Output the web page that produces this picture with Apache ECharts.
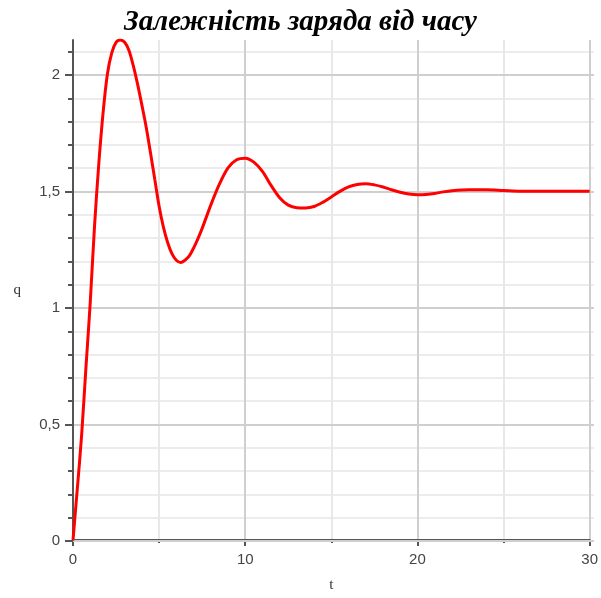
<!DOCTYPE html>
<html>
<head>
<meta charset="utf-8">
<script src="https://cdn.jsdelivr.net/npm/echarts@6/dist/echarts.min.js"></script>
<style>html,body{margin:0;padding:0;background:#fff;}#c{width:601px;height:598px;}</style>
</head>
<body>
<div id="c"></div>
<script>
const titleText = 'Залежність заряда від часу';
const xName = 't';
const yName = 'q';
const tValues = [0,0.25,0.5,0.75,1.0,1.25,1.5,1.75,2.0,2.25,2.5,2.75,3.0,3.25,3.5,3.75,4.0,4.25,4.5,4.75,5.0,5.25,5.5,5.75,6.0,6.25,6.5,6.75,7.0,7.25,7.5,8.0,8.5,9.0,9.5,10.0,10.5,11.0,11.5,12.0,12.5,13.0,13.5,14.0,14.5,15.0,15.5,16.0,16.5,17.0,17.5,18.0,18.5,19.0,19.5,20.0,20.5,21.0,21.5,22.0,23.0,24.0,25.0,26.0,27.0,28.0,29.0,30.0];
const qValues = [0,0.22,0.45,0.74,1.02,1.35,1.62,1.84,2.005,2.095,2.14,2.15,2.14,2.105,2.04,1.96,1.87,1.775,1.665,1.55,1.435,1.345,1.278,1.23,1.203,1.193,1.203,1.222,1.255,1.295,1.34,1.44,1.53,1.60,1.635,1.642,1.625,1.585,1.525,1.472,1.44,1.429,1.428,1.434,1.452,1.475,1.499,1.518,1.529,1.532,1.527,1.518,1.506,1.495,1.488,1.485,1.486,1.49,1.497,1.502,1.506,1.506,1.503,1.500,1.5,1.5,1.5,1.5];
const xMin = 0, xMax = 30, yMin = 0, yMax = 2.15, yMajorMax = 2, yMinorMax = 2.1;
const xMajor = 10, yMajor = 0.5, yMinor = 0.1;

const CW = 601, CH = 598;
const gLeft = 73, gRight = 7, gTop = 40, gBottom = 57;
const plotH = CH - gTop - gBottom;
const pxPerUnit = plotH / (yMax - yMin);
const majorTop = CH - gBottom - (yMajorMax - yMin) * pxPerUnit;
const minorTop = CH - gBottom - (yMinorMax - yMin) * pxPerUnit;

const labelFont = {color:'#444', fontSize:15, fontFamily:'Liberation Sans'};

const chart = echarts.init(document.getElementById('c'), null, {renderer:'canvas'});
chart.setOption({
  animation:false,
  backgroundColor:'#fff',
  title:{text:titleText, left:'center', top:3, textStyle:{fontFamily:'Liberation Serif', fontStyle:'italic', fontWeight:'bold', fontSize:29, color:'#000'}},
  grid:[
    {left:gLeft, right:gRight, top:gTop, bottom:gBottom},
    {left:gLeft, right:gRight, top:majorTop, bottom:gBottom},
    {left:gLeft, right:gRight, top:minorTop, bottom:gBottom}
  ],
  xAxis:[
    {gridIndex:0, type:'value', min:xMin, max:xMax, interval:xMajor, z:1,
     name:xName, nameLocation:'middle', nameGap:38, nameTextStyle:{color:'#333', fontSize:15, fontFamily:'Liberation Serif'},
     axisLine:{show:true, onZero:false, lineStyle:{color:'#555', width:2}},
     axisTick:{show:true, length:6, lineStyle:{color:'#555', width:2}},
     minorTick:{show:true, splitNumber:2, length:3, lineStyle:{color:'#555', width:2}},
     axisLabel:Object.assign({margin:12}, labelFont),
     splitLine:{show:true, lineStyle:{color:'#cfcfcf', width:2}},
     minorSplitLine:{show:true, lineStyle:{color:'#e8e8e8', width:2}}},
    {gridIndex:1, type:'value', min:xMin, max:xMax, show:false},
    {gridIndex:2, type:'value', min:xMin, max:xMax, show:false}
  ],
  yAxis:[
    {gridIndex:0, type:'value', min:yMin, max:yMax, z:3,
     name:yName, nameLocation:'middle', nameGap:52, nameRotate:0, nameTextStyle:{color:'#333', fontSize:15, fontFamily:'Liberation Serif'},
     axisLine:{show:true, lineStyle:{color:'#555', width:2}},
     axisTick:{show:false}, axisLabel:{show:false}, splitLine:{show:false}},
    {gridIndex:1, type:'value', min:yMin, max:yMajorMax, interval:yMajor, z:2,
     axisLine:{show:false},
     axisTick:{show:true, length:8, lineStyle:{color:'#555', width:2}},
     axisLabel:Object.assign({margin:13, formatter:v => String(v).replace('.', ',')}, labelFont),
     splitLine:{show:true, lineStyle:{color:'#cfcfcf', width:2}}},
    {gridIndex:2, type:'value', min:yMin, max:yMinorMax, interval:yMinor, z:0,
     axisLine:{show:false},
     axisTick:{show:true, length:5, lineStyle:{color:'#555', width:2}},
     axisLabel:{show:false},
     splitLine:{show:true, lineStyle:{color:'#ececec', width:2}}}
  ],
  series:[{
    type:'line', xAxisIndex:0, yAxisIndex:0, z:5,
    data:tValues.map((t,i)=>[t,qValues[i]]),
    smooth:0.3, showSymbol:false, symbol:'none',
    lineStyle:{color:'#ff0000', width:3}
  }]
});
</script>
</body>
</html>
